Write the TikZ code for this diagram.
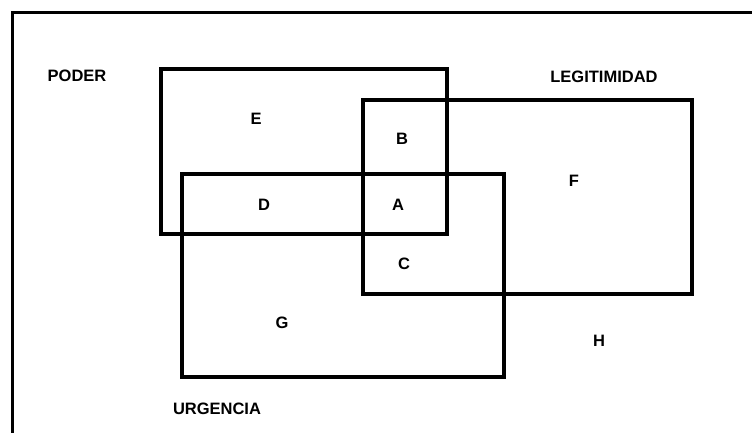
\documentclass[tikz,border=0pt]{standalone}
\usepackage{fontspec}
\setmainfont{Liberation Sans}
\begin{document}
\begin{tikzpicture}[x=1pt, y=-1pt, line width=3.4pt,
    lbl/.style={font=\fontsize{16.5}{16.5}\selectfont\bfseries, inner sep=0pt}]
\useasboundingbox (0,0) rectangle (752,432);
% outer frame
\draw[line width=3pt] (12,440)--(12,12)--(760,12);
% sets
\draw (161,69) rectangle (447,234);
\draw (363,100) rectangle (692,294);
\draw (182,174) rectangle (504,377);
% set names
\node[lbl] (poder) at (77,76){PODER};
\node[lbl] (legit) at (604,77){LEGITIMIDAD};
\node[lbl] (urg) at (217,409){URGENCIA};
% regions
\node[lbl] (e) at (256,119){E};
\node[lbl] (b) at (402,139){B};
\node[lbl] (d) at (264,205){D};
\node[lbl] (a) at (398,205){A};
\node[lbl] (f) at (574,181){F};
\node[lbl] (c) at (404,264){C};
\node[lbl] (g) at (282,323){G};
\node[lbl] (h) at (599,341){H};
\end{tikzpicture}
\end{document}
